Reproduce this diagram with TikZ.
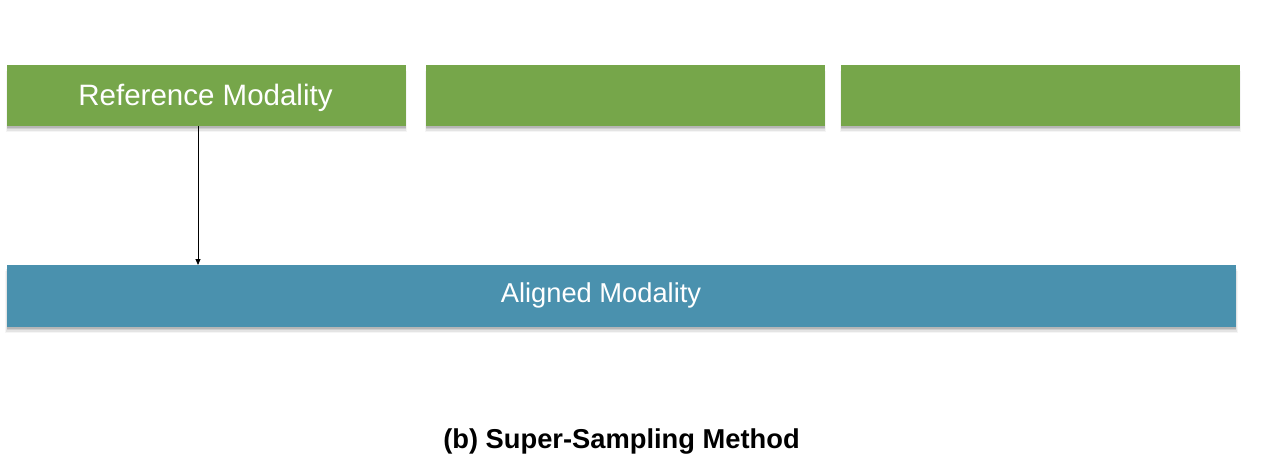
\documentclass[tikz,border=0pt]{standalone}
\usepackage{fontspec}
\setmainfont{Liberation Sans}
\usetikzlibrary{shadows,arrows.meta}
\definecolor{grn}{RGB}{118,166,74}
\definecolor{blu}{RGB}{74,145,174}
\begin{document}
\begin{tikzpicture}[x=1pt,y=-1pt,
  box/.style={draw=none,anchor=north west,inner sep=0pt,outer sep=0pt,
    drop shadow={shadow xshift=0pt,shadow yshift=-6pt,opacity=0.08,shadow scale=1.004},
    drop shadow={shadow xshift=0pt,shadow yshift=-4.5pt,opacity=0.14,shadow scale=1.002},
    drop shadow={shadow xshift=0pt,shadow yshift=-3pt,opacity=0.22},
    drop shadow={shadow xshift=0pt,shadow yshift=-1.5pt,opacity=0.3}},
  greenbox/.style={box,fill=grn,minimum width=399pt,minimum height=61pt},
  bluebox/.style={box,fill=blu,minimum width=1229pt,minimum height=62pt},
  boxtext/.style={anchor=base,text=white,inner sep=0pt},
  conn/.style={draw=black,line width=0.8pt,-{Triangle[length=6pt,width=5pt]}}]
\useasboundingbox[fill=white] (0,0) rectangle (1262,474);
\node[greenbox] (g1) at (7,65) {};
\node[greenbox] (g2) at (426,65) {};
\node[greenbox] (g3) at (841,65) {};
\node[bluebox] (al) at (7,265) {};
\node[boxtext,font=\fontsize{29.5}{32}\selectfont] (t1) at (205.5,105.5) {Reference Modality};
\node[boxtext,font=\fontsize{27.3}{30}\selectfont] (t2) at (601,302) {Aligned Modality};
\coordinate (ax) at (198,0);
\draw[conn] (g1.south -| ax) -- (al.north -| ax);
\node[anchor=base,inner sep=0pt,font=\bfseries\fontsize{27.3}{30}\selectfont] (cap) at (621.5,448) {(b) Super-Sampling Method};
\end{tikzpicture}
\end{document}
